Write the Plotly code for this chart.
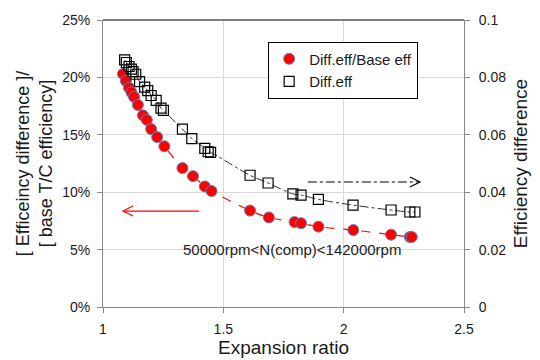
import plotly.graph_objects as go

# Red circles: Diff.eff/Base eff (left axis, fraction)
ratio_x = [1.083, 1.095, 1.108, 1.118, 1.129, 1.145, 1.166, 1.182, 1.200, 1.225, 1.255,
           1.330, 1.374, 1.423, 1.451, 1.611, 1.689, 1.796, 1.823, 1.895, 2.040, 2.197, 2.275, 2.283]
ratio_y = [0.203, 0.197, 0.191, 0.187, 0.183, 0.176, 0.167, 0.163, 0.155, 0.148, 0.140,
           0.121, 0.114, 0.105, 0.101, 0.084, 0.078, 0.074, 0.073, 0.070, 0.067, 0.063, 0.061, 0.061]

# Open squares: Diff.eff (right axis)
diff_x = [1.090, 1.097, 1.108, 1.118, 1.125, 1.136, 1.152, 1.173, 1.186, 1.200, 1.221, 1.241, 1.251,
          1.330, 1.369, 1.423, 1.437, 1.447, 1.611, 1.686, 1.789, 1.823, 1.895, 2.039, 2.197, 2.275, 2.296]
diff_y = [0.0861, 0.0852, 0.0838, 0.0829, 0.0820, 0.0811, 0.0785, 0.0766, 0.0754, 0.0737, 0.0720, 0.0693, 0.0685,
          0.0620, 0.0587, 0.0553, 0.0541, 0.0539, 0.0459, 0.0432, 0.0394, 0.0390, 0.0375, 0.0355, 0.0338, 0.0331, 0.0331]

left_ticks = [0, 0.05, 0.10, 0.15, 0.20, 0.25]
right_ticks = [0, 0.02, 0.04, 0.06, 0.08, 0.1]
right_labels = ["0", "0.02", "0.04", "0.06", "0.08", "0.1"]
x_ticks = [1, 1.5, 2, 2.5]
x_labels = ["1", "1.5", "2", "2.5"]

FONT = "Liberation Sans"
TXT = "#1a1a1a"
fig = go.Figure()

fig.add_trace(go.Scatter(x=ratio_x, y=ratio_y, mode="lines", line=dict(color="red", dash="dash", width=1.2, shape="spline"),
                         showlegend=False, hoverinfo="skip"))
fig.add_trace(go.Scatter(x=diff_x, y=diff_y, mode="lines", yaxis="y2",
                         line=dict(color="#333333", dash="dashdot", width=1, shape="spline"),
                         showlegend=False, hoverinfo="skip"))
fig.add_trace(go.Scatter(x=ratio_x, y=ratio_y, mode="markers", name="Diff.eff/Base eff",
                         marker=dict(symbol="circle", size=11, color="red", line=dict(color="#5b7fc0", width=1))))
fig.add_trace(go.Scatter(x=diff_x, y=diff_y, mode="markers", name="Diff.eff", yaxis="y2",
                         marker=dict(symbol="square-open", size=10, color="black", line=dict(width=1.2))))

# Top border
fig.add_shape(type="line", xref="paper", yref="paper", x0=0, x1=1, y0=1, y1=1,
              line=dict(color="#555555", width=1.5))

# Red arrow (points to left axis)
fig.add_shape(type="line", xref="x", yref="y", x0=1.085, x1=1.399, y0=0.0836, y1=0.0836,
              line=dict(color="red", width=1.2))
fig.add_shape(type="path", xref="x", yref="y", xsizemode="pixel", ysizemode="pixel",
              xanchor=1.083, yanchor=0.0836, path="M 10,5 L 0,0 L 10,-5",
              line=dict(color="red", width=1.2))

# Black dash-dot arrow (points to right axis)
fig.add_shape(type="line", xref="x", yref="y2", x0=1.851, x1=2.315, y0=0.04355, y1=0.04355,
              line=dict(color="black", width=1.2, dash="dashdot"))
fig.add_shape(type="path", xref="x", yref="y2", xsizemode="pixel", ysizemode="pixel",
              xanchor=2.317, yanchor=0.04355, path="M -10,5 L 0,0 L -10,-5",
              line=dict(color="black", width=1.2))

fig.add_annotation(x=1.323, y=0.05, xref="x", yref="y", text="50000rpm<N(comp)<142000rpm", showarrow=False,
                   xanchor="left", yanchor="middle", font=dict(family=FONT, size=15, color=TXT))

fig.update_layout(
    width=540, height=360,
    margin=dict(l=103, r=72, t=17, b=53),
    paper_bgcolor="white", plot_bgcolor="white",
    font=dict(family=FONT, size=14, color=TXT),
    xaxis=dict(range=[1, 2.5], tickvals=x_ticks, ticktext=x_labels, showgrid=True, gridcolor="#d9d9d9",
               showline=True, linecolor="#888888", ticks="outside", ticklen=5, tickcolor="#888888",
               ticklabelstandoff=4, automargin=False,
               title=dict(text="Expansion ratio", font=dict(size=19), standoff=1), zeroline=False),
    yaxis=dict(range=[0, 0.25], tickvals=left_ticks, tickformat=".0%", showgrid=True, gridcolor="#d9d9d9",
               showline=True, linecolor="#888888", ticks="outside", ticklen=5, tickcolor="#888888",
               ticklabelstandoff=4,
               title=dict(text="[ Efficeincy difference ]/<br>[ base T/C efficiency]", font=dict(size=18), standoff=4),
               zeroline=False),
    yaxis2=dict(range=[0, 0.1], tickvals=right_ticks, ticktext=right_labels, overlaying="y", side="right",
                showgrid=False, showline=True, linecolor="#888888", ticks="outside", ticklen=5, tickcolor="#888888",
                ticklabelstandoff=6,
                title=dict(text="Efficiency difference", font=dict(size=19), standoff=8), zeroline=False),
    legend=dict(x=0.4575, y=0.925, xanchor="left", yanchor="top", bordercolor="black", borderwidth=1,
                bgcolor="white", font=dict(size=15), tracegroupgap=8),
)

fig.write_html("out.html")
